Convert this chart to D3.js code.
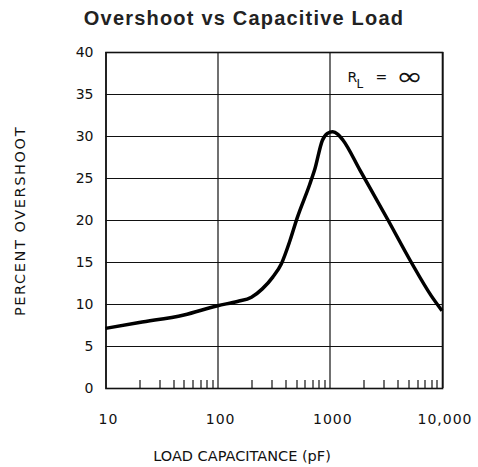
<!DOCTYPE html>
<html>
<head>
<meta charset="utf-8">
<script src="https://cdn.jsdelivr.net/npm/d3@7"></script>
<style>
  body { margin: 0; background: #fff; }
  svg { display: block; }
  .tick-label { font-family: "DejaVu Sans", sans-serif; font-size: 14px; fill: #111; }
  .axis-title { font-family: "DejaVu Sans", sans-serif; font-size: 14.5px; fill: #111; }
  .title { font-family: "Liberation Sans", Arial, sans-serif; font-weight: bold; font-size: 20px; fill: #222; letter-spacing: 1.2px; }
</style>
</head>
<body>
<div class="content"></div>
<script>
// capacitance (pF) and overshoot (%)
const capacitance = [10, 20, 50, 100, 150, 200, 250, 310, 370, 440, 510, 660, 733, 859, 950, 1060, 1180, 1312, 1845, 3300, 5300, 8000, 10000];
const overshoot = [7.1, 7.8, 8.7, 9.8, 10.3, 10.8, 11.8, 13.2, 14.8, 17.5, 20.2, 24.2, 26.0, 29.5, 30.3, 30.5, 30.2, 29.5, 26.0, 20.0, 15.0, 11.0, 9.2];

const xTickValues = [10, 100, 1000, 10000];
const xTickLabels = ["10", "100", "1000", "10,000"];
const yTickValues = [0, 5, 10, 15, 20, 25, 30, 35, 40];

const W = 478, H = 467;
const margin = { top: 52, right: 36, bottom: 79, left: 105.5 };
const width = W - margin.left - margin.right;
const height = H - margin.top - margin.bottom;

const xScale = d3.scaleLog().domain([10, 10000]).range([0, width]);
const yScale = d3.scaleLinear().domain([0, 40]).range([height, 0]);

const svg = d3.select(".content").append("svg")
  .attr("width", W)
  .attr("height", H);

//--> Title
svg.append("text")
  .attr("class", "title")
  .attr("x", 244)
  .attr("y", 25)
  .attr("text-anchor", "middle")
  .text("Overshoot vs Capacitive Load");

const g = svg.append("g")
  .attr("transform", `translate(${margin.left}, ${margin.top})`);

//--> Horizontal grid
g.selectAll(".hgrid")
  .data(yTickValues)
  .enter()
  .append("line")
  .attr("x1", 0)
  .attr("x2", width)
  .attr("y1", d => Math.round(yScale(d)) + 0.5)
  .attr("y2", d => Math.round(yScale(d)) + 0.5)
  .attr("stroke", "#111")
  .attr("stroke-width", 1.2);

//--> Vertical grid at decades
g.selectAll(".vgrid")
  .data(xTickValues)
  .enter()
  .append("line")
  .attr("x1", d => Math.round(xScale(d)) + 0.5)
  .attr("x2", d => Math.round(xScale(d)) + 0.5)
  .attr("y1", 0)
  .attr("y2", height)
  .attr("stroke", "#111")
  .attr("stroke-width", 1.2);

//--> Minor ticks along the bottom
const minorTicks = [];
[10, 100, 1000].forEach(dec => {
  for (let k = 2; k <= 9; k++) minorTicks.push(dec * k);
});
g.selectAll(".minor")
  .data(minorTicks)
  .enter()
  .append("line")
  .attr("x1", d => Math.round(xScale(d)) + 0.5)
  .attr("x2", d => Math.round(xScale(d)) + 0.5)
  .attr("y1", height)
  .attr("y2", height - 8)
  .attr("stroke", "#111")
  .attr("stroke-width", 1.2);

//--> Outer frame
g.append("rect")
  .attr("x", 0.5)
  .attr("y", 0.5)
  .attr("width", width)
  .attr("height", height)
  .attr("fill", "none")
  .attr("stroke", "#111")
  .attr("stroke-width", 1.6);

//--> Y tick labels
g.selectAll(".ylab")
  .data(yTickValues)
  .enter()
  .append("text")
  .attr("class", "tick-label")
  .attr("x", -12)
  .attr("y", d => yScale(d))
  .attr("dy", "0.36em")
  .attr("text-anchor", "end")
  .text(d => d);

//--> X tick labels
g.selectAll(".xlab")
  .data(xTickValues)
  .enter()
  .append("text")
  .attr("class", "tick-label")
  .attr("x", d => xScale(d) + 3)
  .attr("y", height + 36)
  .attr("text-anchor", "middle")
  .style("letter-spacing", "1px")
  .text((d, i) => xTickLabels[i]);

//--> Axis titles
svg.append("text")
  .attr("class", "axis-title")
  .attr("x", 242)
  .attr("y", 461)
  .attr("text-anchor", "middle")
  .text("LOAD CAPACITANCE (pF)");

svg.append("text")
  .attr("class", "axis-title")
  .attr("transform", "translate(25, 221) rotate(-90)")
  .attr("text-anchor", "middle")
  .style("letter-spacing", "1.6px")
  .text("PERCENT OVERSHOOT");

//--> R_L annotation
const ann = g.append("g").attr("class", "annotation");
ann.append("text").attr("class", "tick-label")
  .attr("x", 242).attr("y", 30).text("R");
ann.append("text").attr("class", "tick-label").style("font-size", "12px")
  .attr("x", 251).attr("y", 36).text("L");
ann.append("text").attr("class", "tick-label")
  .attr("x", 270).attr("y", 30).text("=");
ann.append("text").attr("class", "tick-label")
  .attr("text-anchor", "middle")
  .attr("transform", "translate(304, 33) scale(1.3, 1)")
  .style("font-size", "25px")
  .text("∞");

//--> Curve
const data = capacitance.map((c, i) => ({ c: c, v: overshoot[i] }));
const line = d3.line()
  .x(d => xScale(d.c))
  .y(d => yScale(d.v))
  .curve(d3.curveMonotoneX);

g.append("path")
  .datum(data)
  .attr("d", line)
  .attr("fill", "none")
  .attr("stroke", "#000")
  .attr("stroke-width", 3.5)
  .attr("stroke-linejoin", "round");
</script>
</body>
</html>
